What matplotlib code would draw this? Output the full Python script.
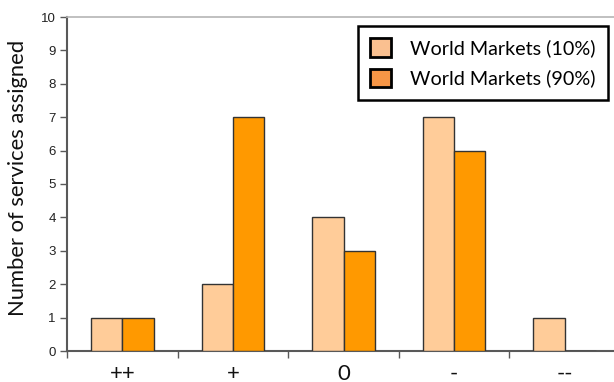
import matplotlib
matplotlib.use("Agg")
import matplotlib.pyplot as plt
from matplotlib.patches import Patch
import numpy as np

categories = ["++", "+", "0", "-", "--"]
series_names = ["World Markets (10%)", "World Markets (90%)"]
values_10 = [1, 2, 4, 7, 1]
values_90 = [1, 7, 3, 6, 0]

bar_colors = ["#FFCC99", "#FF9900"]
legend_colors = ["#FAC090", "#F79646"]
edge_color = "#333333"
spine_color = "#595959"

fig = plt.figure(figsize=(6.14, 3.82), dpi=100)
W, H = 614, 382
left, right, top, bottom = 67, 620, 17, 351
ax = fig.add_axes([left / W, 1 - bottom / H, (right - left) / W, (bottom - top) / H])

x = np.arange(len(categories))
width = 0.283
ax.bar(x - width / 2, values_10, width, color=bar_colors[0], edgecolor=edge_color, linewidth=1.0, zorder=3)
ax.bar(x + width / 2, values_90, width, color=bar_colors[1], edgecolor=edge_color, linewidth=1.0, zorder=3)

ax.set_xlim(-0.5, len(categories) - 0.5)
ax.set_ylim(0, 10)
ax.set_yticks(range(0, 11))
ax.tick_params(axis="y", direction="out", length=5, width=1, color=spine_color,
               labelsize=9.5, labelcolor="#222222", pad=3)
for lbl in ax.get_yticklabels():
    lbl.set_family("Liberation Sans")

ax.set_xticks(x)
ax.set_xticklabels(categories, fontsize=16, family="Lato", color="#111111")
ax.set_xticks(np.arange(-0.5, len(categories)), minor=True)
ax.tick_params(axis="x", which="major", length=0, pad=9)
ax.tick_params(axis="x", which="minor", direction="out", length=5, width=1, color=spine_color)

ax.spines["left"].set_color(spine_color)
ax.spines["left"].set_linewidth(1.5)
ax.spines["bottom"].set_color(spine_color)
ax.spines["bottom"].set_linewidth(1.5)
ax.spines["top"].set_color("#B5B5B5")
ax.spines["top"].set_linewidth(1.2)
ax.spines["right"].set_visible(False)

fig.text(18 / W, 1 - 178 / H, "Number of services assigned", rotation=90,
         ha="center", va="center", fontsize=15.8, family="Lato", color="#111111")

handles = [Patch(facecolor=c, edgecolor="black", linewidth=2) for c in legend_colors]
leg = fig.legend(handles, series_names, loc="upper right",
                 bbox_to_anchor=(608 / W, 1 - 26 / H), borderaxespad=0,
                 prop={"family": "Lato", "size": 14.2},
                 handlelength=1.05, handleheight=1.05, labelspacing=0.58,
                 handletextpad=1.0, borderpad=0.62, fancybox=False, framealpha=1)
leg.get_frame().set_edgecolor("black")
leg.get_frame().set_linewidth(1.8)

fig.savefig("out.png", dpi=100)
